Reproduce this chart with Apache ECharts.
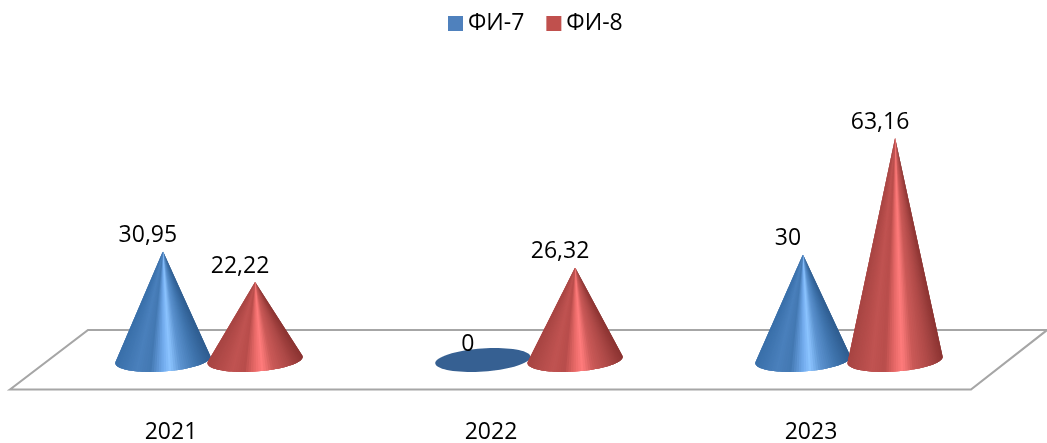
<!DOCTYPE html>
<html>
<head>
<meta charset="utf-8">
<style>html,body{margin:0;padding:0;background:#fff}#c{width:1047px;height:443px}</style>
<script src="https://cdn.jsdelivr.net/npm/echarts@6/dist/echarts.min.js"></script>
</head>
<body>
<div id="c"></div>
<script>
const categories = ['2021', '2022', '2023'];
const fi7Values = [30.95, 0, 30];
const fi8Values = [22.22, 26.32, 63.16];
const seriesNames = ['ФИ-7', 'ФИ-8'];

const FONT = '"Open Sans", "Noto Sans", sans-serif';
const blueStops = [[0,'#3a70aa'],[.22,'#4a80bc'],[.36,'#4378b2'],[.5,'#74adef'],[.57,'#8cc4ff'],[.68,'#5c93d0'],[.85,'#3f74ad'],[1,'#2f5d90']];
const redStops = [[0,'#a84543'],[.25,'#c05351'],[.38,'#b84d4b'],[.5,'#ec6c6b'],[.57,'#ff7c7c'],[.68,'#cb5a58'],[.85,'#ad4947'],[1,'#8c3432']];

function hex(c){return [1,3,5].map(i=>parseInt(c.substr(i,2),16));}
function shade(stops,t){
  for(let i=1;i<stops.length;i++){
    if(t<=stops[i][0]){
      const f=(t-stops[i-1][0])/(stops[i][0]-stops[i-1][0]);
      const a=hex(stops[i-1][1]),b=hex(stops[i][1]);
      return 'rgb('+a.map((v,k)=>Math.round(v+(b[k]-v)*f)).join(',')+')';
    }
  }
  return stops[stops.length-1][1];
}

function coneRenderer(dir, stops, flat){
  return function(params, api){
    const idx=api.value(0), val=api.value(1);
    const band=api.size([1,0])[0];
    const base=api.coord([idx,0]), top=api.coord([idx,val]);
    const cx=base[0]+dir*band*0.144, cy=base[1];
    const a=band*0.149, b=band*0.036, th=-4*Math.PI/180;
    const ax=cx, ay=top[1];
    const pt=p=>[cx+a*Math.cos(p)*Math.cos(th)-b*Math.sin(p)*Math.sin(th),
                 cy+a*Math.cos(p)*Math.sin(th)+b*Math.sin(p)*Math.cos(th)];
    const children=[];
    const h=cy-ay;
    if(h<1){
      const pts=[];
      for(let i=0;i<72;i++) pts.push(pt(i/72*2*Math.PI));
      children.push({type:'polygon',shape:{points:pts},style:{fill:flat}});
    }else{
      const phi=Math.asin(Math.min(1,b/h));
      const N=64;
      const span=Math.PI+2*phi;
      // each slice runs on past its own end, so later slices paint over it and no seams show
      for(let i=0;i<N;i++){
        const pts=[[ax,ay]];
        const last=Math.min(N,i+3);
        for(let k=i;k<=last;k++) pts.push(pt(-phi+span*k/N));
        const mid=-phi+span*(i+0.5)/N;
        const t=Math.max(0,Math.min(1,(1-Math.cos(mid))/2));
        children.push({type:'polygon',shape:{points:pts},style:{fill:shade(stops,1-t)}});
      }
    }
    children.push({type:'text',z2:50,style:{
      text:String(val).replace('.',','),x:ax-band*0.047,y:ay-band*0.049,
      align:'center',verticalAlign:'middle',fill:'#000',font:'23px '+FONT}});
    return {type:'group',children};
  };
}

const chart=echarts.init(document.getElementById('c'),null,{renderer:'canvas'});
chart.setOption({
  animation:false,
  backgroundColor:'#fff',
  legend:{
    left:443,top:7,icon:'rect',itemWidth:15,itemHeight:15,itemGap:22,
    data:seriesNames,
    textStyle:{fontFamily:FONT,fontSize:23,color:'#000'}
  },
  graphic:[{
    type:'polygon',z:-1,silent:true,
    shape:{points:[[10,389.5],[88,330],[1047,330],[971,389.5]]},
    style:{fill:'#fff',stroke:'#a6a6a6',lineWidth:2.2}
  }],
  grid:{left:49,width:960,top:114,height:246,outerBoundsMode:'none'},
  xAxis:{
    type:'category',data:categories,
    axisLine:{show:false},axisTick:{show:false},splitLine:{show:false},
    axisLabel:{margin:61,padding:[0,76,0,0],fontFamily:FONT,fontSize:23,color:'#000'}
  },
  yAxis:{type:'value',min:0,max:70,show:false},
  series:[
    {name:seriesNames[0],type:'custom',coordinateSystem:'cartesian2d',
     encode:{x:0,y:1},itemStyle:{color:'#4f81bd'},
     data:fi7Values.map((v,i)=>[i,v]),
     renderItem:coneRenderer(-1,blueStops,'#366092')},
    {name:seriesNames[1],type:'custom',coordinateSystem:'cartesian2d',
     encode:{x:0,y:1},itemStyle:{color:'#c0504d'},
     data:fi8Values.map((v,i)=>[i,v]),
     renderItem:coneRenderer(1,redStops,'#953735')}
  ]
});
</script>
</body>
</html>
